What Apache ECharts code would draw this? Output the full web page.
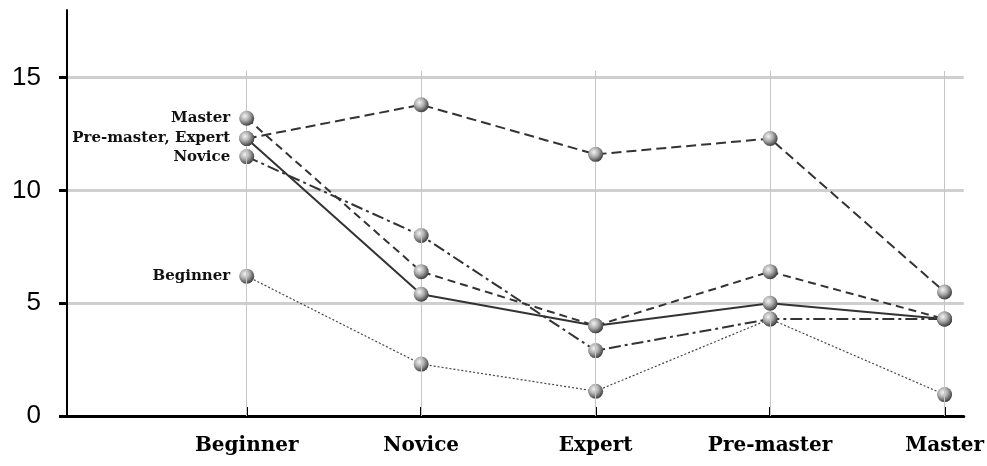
<!DOCTYPE html>
<html>
<head>
    <meta charset="utf-8">
    <title>Levels</title>
    <script src="https://cdn.jsdelivr.net/npm/echarts@6/dist/echarts.min.js"></script>
    <style>
        html, body { margin: 0; padding: 0; background: #fff; }
        #chart { width: 987px; height: 466px; }
    </style>
</head>
<body>
    <div id="chart"></div>
    <script type="text/javascript">
        // categories on the x axis
        var levels = ['Beginner', 'Novice', 'Expert', 'Pre-master', 'Master'];
        var yTicks = [0, 5, 10, 15];

        // one line per group
        var beginner  = [6.2, 2.3, 1.1, 4.3, 0.95];
        var novice    = [11.5, 8.0, 2.9, 4.3, 4.3];
        var expert    = [12.3, 5.4, 4.0, 5.0, 4.3];
        var premaster = [12.3, 13.8, 11.6, 12.3, 5.5];
        var master    = [13.2, 6.4, 4.0, 6.4, 4.3];

        // text written next to the first point of each line
        var startLabels = ['Beginner', 'Novice', '', 'Pre-master, Expert', 'Master'];

        var chart = echarts.init(document.getElementById('chart'));

        var ball = {
            type: 'radial', x: 0.38, y: 0.35, r: 0.7,
            colorStops: [
                { offset: 0, color: '#f4f4f4' },
                { offset: 0.45, color: '#adadad' },
                { offset: 1, color: '#333' }
            ]
        };

        function makeSeries(name, values, lineStyle, z) {
            var txt = startLabels[levels.indexOf(name)];
            var data = values.map(function (v, i) {
                var item = { value: [i, v] };
                if (i === 0 && txt) {
                    item.label = {
                        show: true,
                        position: 'left',
                        distance: 9,
                        formatter: txt,
                        fontFamily: 'DejaVu Serif',
                        fontWeight: 'bold',
                        fontSize: 15,
                        color: '#111'
                    };
                }
                return item;
            });
            return {
                name: name,
                type: 'line',
                data: data,
                z: z,
                symbol: 'circle',
                symbolSize: 15,
                itemStyle: { color: ball },
                lineStyle: lineStyle,
                emphasis: { disabled: true }
            };
        }

        var vLines = levels.map(function (l, i) {
            return [{ coord: [i, 0] }, { coord: [i, 15.3] }];
        });

        var option = {
            animation: false,
            grid: { left: 67, right: 17, top: 10, bottom: 50 },
            xAxis: {
                type: 'value',
                min: -1.03,
                max: 4.11,
                axisLine: { lineStyle: { color: '#000', width: 3 } },
                axisTick: {
                    customValues: [0, 1, 2, 3, 4],
                    inside: true, length: 9,
                    lineStyle: { color: '#000', width: 2 }
                },
                axisLabel: {
                    customValues: [0, 1, 2, 3, 4],
                    formatter: function (v) { return levels[Math.round(v)]; },
                    margin: 20,
                    fontFamily: 'DejaVu Serif',
                    fontWeight: 'bold',
                    fontSize: 20,
                    color: '#000'
                },
                splitLine: { show: false }
            },
            yAxis: {
                type: 'value',
                min: 0,
                max: 18,
                axisLine: { show: true, onZero: false, lineStyle: { color: '#000', width: 2 } },
                axisTick: {
                    customValues: yTicks,
                    length: 8,
                    lineStyle: { color: '#000', width: 3 }
                },
                axisLabel: {
                    customValues: yTicks,
                    margin: 26,
                    fontFamily: 'Liberation Sans',
                    fontSize: 26,
                    color: '#000'
                },
                splitLine: {
                    show: true,
                    showMinLine: false,
                    lineStyle: { color: '#cfcfcf', width: 3 }
                }
            },
            series: [
                {
                    type: 'line',
                    data: [],
                    z: 1,
                    silent: true,
                    markLine: {
                        silent: true,
                        symbol: 'none',
                        label: { show: false },
                        lineStyle: { color: '#c6c6c6', width: 1, type: 'solid' },
                        data: vLines
                    }
                },
                makeSeries('Beginner', beginner, { color: '#444', width: 1.2, type: [2, 2] }, 3),
                makeSeries('Novice', novice, { color: '#333', width: 2, type: [12, 4, 3, 4] }, 4),
                makeSeries('Expert', expert, { color: '#333', width: 2, type: 'solid' }, 5),
                makeSeries('Pre-master', premaster, { color: '#333', width: 2, type: [10, 5] }, 6),
                makeSeries('Master', master, { color: '#333', width: 2, type: [8, 5] }, 7)
            ]
        };

        chart.setOption(option);
    </script>
</body>
</html>
